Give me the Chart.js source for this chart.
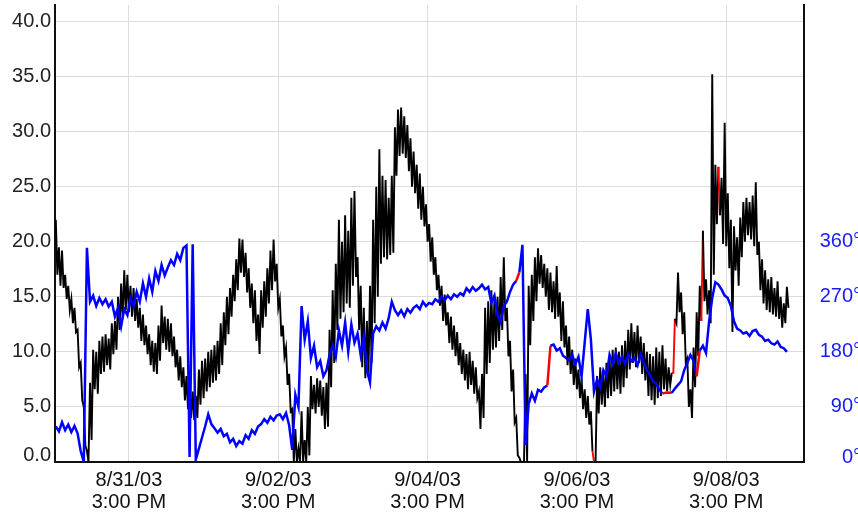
<!DOCTYPE html>
<html>
<head>
<meta charset="utf-8">
<script src="https://cdn.jsdelivr.net/npm/chart.js@4.4.1/dist/chart.umd.min.js"></script>
<style>
  html, body { margin: 0; padding: 0; background: #fff; }
  canvas { display: block; }
</style>
</head>
<body>
<canvas id="chart" width="858" height="521"></canvas>
<script>
// hours counted from 8/30/03 00:00
const startHour = 15.5;
const speedStep = 0.5;     // speed logged every half hour
const directionStep = 1;   // direction every hour

// wind speed (left axis), two readings per hour
const speed = [
  22.0, 17.0, 19.5, 16.0, 19.2, 15.8, 17.0, 14.8, 16.0, 13.8,
  14.8, 12.6, 14.0, 11.8, 12.0, 8.6, 9.0, 5.6, 5.0, 1.5,
  1.0, 0.0, 7.2, 2.0, 10.2, 6.6, 10.0, 6.2, 11.0, 8.0,
  11.4, 8.2, 11.6, 8.8, 11.2, 8.4, 12.6, 9.8, 12.8, 10.2,
  15.0, 12.0, 16.2, 13.0, 17.4, 13.8, 17.0, 13.6, 16.0, 13.2,
  15.8, 12.8, 14.8, 12.2, 14.0, 11.0, 13.4, 10.6, 12.4, 9.8,
  11.6, 8.8, 11.0, 8.2, 10.8, 8.0, 12.4, 9.2, 14.2, 10.8,
  13.2, 10.2, 13.0, 10.0, 12.6, 9.6, 11.4, 8.6, 10.2, 7.4,
  9.6, 6.8, 8.6, 5.6, 7.8, 4.8, 7.0, 4.0, 6.4, 3.8,
  6.0, 4.0, 8.4, 5.2, 9.2, 5.8, 9.4, 6.4, 10.0, 6.8,
  10.2, 7.2, 10.6, 7.4, 11.0, 8.0, 12.6, 8.8, 13.6, 10.6,
  15.0, 11.6, 15.8, 13.2, 17.0, 14.6, 18.4, 15.6, 20.3, 17.2,
  20.2, 16.8, 19.0, 15.4, 17.6, 14.0, 16.2, 12.6, 15.6, 11.0,
  13.4, 9.8, 15.6, 12.2, 16.4, 13.2, 17.6, 14.4, 19.2, 15.6,
  20.2, 16.4, 18.0, 14.0, 14.8, 11.4, 12.4, 9.6, 10.4, 7.0,
  8.0, 4.6, 4.8, 0.0, 3.0, 0.0, 1.2, 0.0, 4.6, 0.0,
  2.0, 0.0, 5.0, 0.6, 7.8, 4.8, 7.0, 4.4, 7.6, 5.0,
  7.4, 4.2, 6.8, 3.0, 7.2, 3.2, 12.0, 6.8, 15.6, 9.0,
  18.0, 12.0, 22.0, 13.0, 20.0, 13.6, 22.4, 14.4, 21.0, 14.0,
  24.0, 16.0, 24.6, 16.8, 18.6, 12.0, 16.0, 8.6, 14.0, 7.6,
  12.8, 8.0, 16.0, 9.0, 22.0, 12.6, 25.0, 15.0, 28.4, 18.0,
  26.0, 18.6, 25.6, 18.4, 24.0, 18.8, 26.0, 19.0, 30.4, 26.0,
  32.0, 27.8, 32.2, 28.0, 31.4, 27.6, 30.6, 26.4, 29.4, 25.0,
  28.2, 24.4, 27.0, 23.0, 26.2, 22.0, 25.0, 21.4, 23.4, 20.0,
  21.6, 18.2, 20.4, 17.0, 18.6, 15.6, 17.0, 14.2, 16.0, 12.8,
  15.2, 12.4, 13.6, 10.8, 13.2, 10.2, 12.4, 9.6, 11.8, 8.8,
  10.8, 8.0, 10.2, 7.4, 9.8, 6.6, 10.0, 7.0, 9.2, 6.2,
  8.6, 5.8, 6.4, 3.0, 8.0, 4.0, 14.0, 8.0, 14.6, 9.0,
  15.6, 10.2, 14.8, 10.4, 15.0, 11.0, 16.8, 12.0, 18.6, 12.8,
  14.0, 9.6, 11.0, 6.4, 8.4, 3.6, 4.0, 0.6, 0.4, 0.0,
  0.0, 0.0, 8.0, 0.0, 16.0, 10.6, 17.0, 12.8, 18.6, 14.6,
  19.4, 16.2, 18.8, 15.8, 18.0, 15.0, 17.6, 13.8, 17.2, 13.6,
  16.4, 13.0, 17.8, 13.2, 15.4, 11.0, 14.6, 10.4, 12.4, 8.8,
  11.4, 8.0, 10.2, 7.0, 9.4, 6.6, 8.4, 5.8, 7.6, 4.8,
  6.6, 4.0, 6.0, 3.4, 4.6, 1.0, 0.0, 0.0, 7.8, 4.4,
  8.6, 5.2, 8.2, 5.0, 9.0, 5.8, 9.6, 6.0, 10.2, 6.4,
  10.4, 6.6, 10.0, 6.2, 10.6, 6.8, 11.0, 7.6, 12.0, 8.4,
  12.6, 9.0, 11.8, 8.6, 12.4, 9.0, 11.4, 8.0, 10.8, 7.4,
  10.0, 6.0, 9.8, 5.6, 9.6, 5.2, 10.4, 5.8, 10.0, 6.0,
  10.6, 6.6, 9.4, 6.4, 8.6, 7.0, 8.1, 8.1, 13.0, 12.6,
  17.2, 13.6, 15.4, 11.6, 13.6, 9.0, 9.4, 5.0, 6.6, 4.0,
  10.4, 6.8, 13.6, 9.6, 16.0, 12.8, 21.0, 14.6, 16.6, 13.4,
  15.6, 12.6, 35.2, 17.0, 27.0, 21.6, 26.8, 22.4, 25.8, 19.8,
  30.8, 19.6, 24.4, 17.6, 22.0, 11.8, 21.4, 17.4, 20.4, 16.0,
  22.2, 18.6, 23.6, 20.0, 24.0, 20.6, 23.6, 20.2, 24.2, 19.6,
  25.4, 18.8, 20.0, 15.6, 18.4, 14.4, 17.4, 13.8, 16.6, 13.6,
  16.8, 13.4, 15.8, 13.2, 16.4, 13.0, 15.0, 12.2, 14.4, 12.6,
  15.9, 14.0
];

// wind direction in degrees (right axis), one reading per hour
const direction = [
  58, 50, 65, 52, 61, 49, 59, 47, 18, 0,
  350, 262, 272, 255, 268, 258, 266, 254, 262, 238,
  252, 222, 250, 240, 268, 255, 278, 262, 292, 270,
  300, 278, 312, 296, 322, 305, 318, 330, 322, 340,
  330, 350, 354, 8, 356, 4, 22, 40, 58, 78,
  62, 55, 48, 54, 42, 46, 32, 38, 26, 34,
  30, 44, 38, 52, 46, 58, 62, 70, 64, 74,
  68, 76, 78, 70, 80, 60, 20, 110, 90, 255,
  200, 230, 170, 190, 155, 165, 140, 150, 175, 190,
  172, 215, 190, 228, 180, 225, 195, 210, 175, 205,
  150, 130, 210, 222, 215, 228, 218, 235, 262, 248,
  240, 248, 238, 250, 244, 252, 256, 250, 262, 255,
  260, 258, 266, 262, 270, 264, 272, 266, 274, 270,
  276, 272, 284, 278, 286, 280, 284, 290, 282, 286,
  260, 272, 240, 228, 255, 262, 278, 290, 296, 310,
  355, 28, 95, 112, 100, 118, 115, 122, 125, 190,
  192, 182, 186, 174, 170, 166, 175, 160, 172, 140,
  195, 250, 200, 115, 135, 122, 150, 140, 175, 160,
  178, 162, 172, 160, 176, 165, 170, 158, 175, 162,
  150, 142, 132, 128, 118, 112, 113, 113, 113, 120,
  126, 132, 150, 162, 175, 165, 140, 182, 190, 178,
  230, 268, 294, 290, 282, 272, 268, 255, 230, 218,
  215, 210, 212, 206, 214, 216, 208, 205, 198, 200,
  194, 192, 197, 188, 186, 180
];

// segments drawn in red (gaps in the record)
const speedGaps = [345, 396, 397, 415, 426];
const directionGaps = [148, 158, 195, 196, 197, 206];

const tickHours = [39, 87, 135, 183, 231];
const tickDates = ["8/31/03", "9/02/03", "9/04/03", "9/06/03", "9/08/03"];
const tickTimes = ["3:00 PM", "3:00 PM", "3:00 PM", "3:00 PM", "3:00 PM"];
const speedTicks = [0, 5, 10, 15, 20, 25, 30, 35, 40];
const directionTicks = [0, 90, 180, 270, 360];

const FONT = '"Liberation Sans", Arial, sans-serif';

const speedPoints = speed.map((v, i) => ({ x: startHour + i * speedStep, y: v }));
const directionPoints = direction.map((v, i) => ({ x: startHour + i * directionStep, y: v }));

// y labels drawn by hand so the zero label sits above the axis line
const axisLabels = {
  id: "axisLabels",
  afterDraw(chart) {
    const c = chart.ctx;
    const yl = chart.scales.y;
    const yr = chart.scales.yDir;
    c.save();
    c.font = "20px " + FONT;
    c.textBaseline = "middle";
    c.textAlign = "right";
    c.fillStyle = "#222";
    speedTicks.forEach((v) => {
      let y = yl.getPixelForValue(v);
      if (v === 0) y -= 7;
      c.fillText(v.toFixed(1), 51, y);
    });
    c.fillStyle = "#1a1aff";
    directionTicks.forEach((v) => {
      let y = yr.getPixelForValue(v);
      if (v === 0) y -= 5;
      c.fillText(v + "°", 861, y);
    });
    c.restore();
  },
};

const ctx = document.getElementById("chart");

const chart = new Chart(ctx, {
  type: "line",
  plugins: [axisLabels],
  data: {
    datasets: [
      {
        label: "Direction",
        data: directionPoints,
        yAxisID: "yDir",
        borderColor: "#0000ff",
        borderWidth: 2.5,
        pointRadius: 0,
        tension: 0,
        order: 0,
        segment: {
          borderColor: (s) => (directionGaps.includes(s.p0DataIndex) ? "#ff0000" : undefined),
        },
      },
      {
        label: "Speed",
        data: speedPoints,
        yAxisID: "y",
        borderColor: "#000000",
        borderWidth: 1.9,
        pointRadius: 0,
        tension: 0,
        order: 1,
        segment: {
          borderColor: (s) => (speedGaps.includes(s.p0DataIndex) ? "#ff0000" : undefined),
        },
      },
    ],
  },
  options: {
    responsive: false,
    animation: false,
    layout: {
      padding: { top: 5, left: 0, right: 0, bottom: 0 },
    },
    plugins: {
      legend: { display: false },
      tooltip: { enabled: false },
    },
    scales: {
      x: {
        type: "linear",
        min: 15.24,
        max: 256,
        afterBuildTicks: (axis) => {
          axis.ticks = tickHours.map((h) => ({ value: h }));
        },
        afterFit: (axis) => {
          axis.height = 59;
        },
        grid: {
          color: "#dcdcdc",
          lineWidth: 1,
          drawTicks: false,
        },
        border: { display: true, color: "#111", width: 2 },
        ticks: {
          autoSkip: false,
          maxRotation: 0,
          padding: 7,
          color: "#111",
          font: { family: FONT, size: 20, lineHeight: 1.1 },
          callback: (value) => {
            const k = tickHours.indexOf(value);
            return k < 0 ? "" : [tickDates[k], tickTimes[k]];
          },
        },
      },
      y: {
        position: "left",
        min: 0,
        max: 41.5,
        afterBuildTicks: (axis) => {
          axis.ticks = speedTicks.map((v) => ({ value: v }));
        },
        afterFit: (axis) => {
          axis.width = 55;
        },
        grid: {
          color: "#dcdcdc",
          lineWidth: 1,
          drawTicks: false,
        },
        border: { display: true, color: "#111", width: 2 },
        ticks: { display: false },
      },
      yDir: {
        position: "right",
        min: 0,
        max: 747,
        afterBuildTicks: (axis) => {
          axis.ticks = directionTicks.map((v) => ({ value: v }));
        },
        afterFit: (axis) => {
          axis.width = 54;
        },
        grid: { display: false, drawTicks: false },
        border: { display: true, color: "#111", width: 2 },
        ticks: { display: false },
      },
    },
  },
});
</script>
</body>
</html>
